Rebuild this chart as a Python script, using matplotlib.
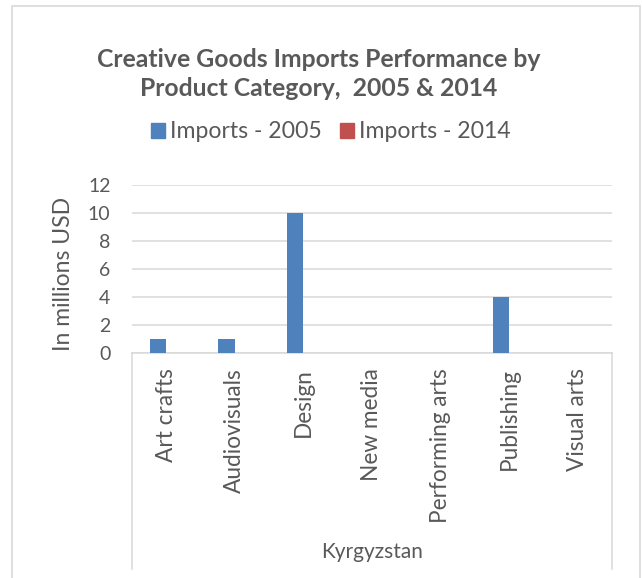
import numpy as np
import matplotlib
matplotlib.use("Agg")
import matplotlib.pyplot as plt
from matplotlib.patches import Rectangle, Patch

plt.rcParams['font.family'] = ['Lato', 'DejaVu Sans']

##=====================================
## Datos (millones USD)
##=====================================
categorias = ["Art crafts", "Audiovisuals", "Design", "New media",
              "Performing arts", "Publishing", "Visual arts"]
imports2005 = [1, 1, 10, 0, 0, 4, 0]
imports2014 = [0, 0, 0, 0, 0, 0, 0]
pais = "Kyrgyzstan"
titulo = "Creative Goods Imports Performance by\nProduct Category,  2005 & 2014"
yticks = [0, 2, 4, 6, 8, 10, 12]

AZUL = "#4F81BD"
ROJO = "#C0504D"
GRIS = "#595959"
LINEA = "#D9D9D9"

W, H = 642, 578
fig = plt.figure(figsize=(W / 100, H / 100), dpi=100)

# marco exterior del grafico
fig.patches.append(Rectangle((12 / W, -0.02), (640 - 12) / W, (578 - 6) / H + 0.02,
                             transform=fig.transFigure, fill=False,
                             edgecolor=LINEA, lw=1.2))

# area de trazado: x 132-612, y 185-353 px
ax = fig.add_axes([132 / W, 1 - 353 / H, 480 / W, 168 / H])

n = len(categorias)
centros = np.arange(n) + 0.5
ancho = 1 / 4.19  # gap width 219%
ax.bar(centros - ancho / 2, imports2005, ancho, color=AZUL, zorder=3)
ax.bar(centros + ancho / 2, imports2014, ancho, color=ROJO, zorder=3)

ax.set_xlim(0, n)
ax.set_ylim(0, 12)
ax.set_yticks(yticks)
ax.yaxis.grid(True, color=LINEA, lw=1.1, zorder=0)
ax.set_axisbelow(True)
for s in ["top", "right", "left"]:
    ax.spines[s].set_visible(False)
ax.spines["bottom"].set_color(LINEA)
ax.spines["bottom"].set_linewidth(1.1)

ax.tick_params(axis="y", length=0, pad=15.5, labelsize=14, labelcolor=GRIS)
ax.set_xticks(centros)
ax.set_xticklabels(categorias, rotation=90)
ax.tick_params(axis="x", length=0, pad=11, labelsize=16.3, labelcolor=GRIS)

# caja del eje de categorias (multinivel)
baja = -(569 - 353) / 168
for xx in [0, 1]:
    ax.plot([xx, xx], [0, baja], transform=ax.transAxes, clip_on=False,
            color=LINEA, lw=1.1)

fig.text(372 / W, 1 - 552 / H, pais, ha="center", va="center",
         fontsize=15, color=GRIS)
fig.text(64 / W, 1 - 274 / H, "In millions USD", rotation=90,
         ha="center", va="center", fontsize=16.5, color=GRIS)

fig.text(319 / W, 1 - 74 / H, titulo, ha="center", va="center",
         fontsize=17.8, fontweight="bold", color=GRIS, linespacing=1.35)

handles = [Patch(color=AZUL, label="Imports - 2005"),
           Patch(color=ROJO, label="Imports - 2014")]
fig.legend(handles=handles, loc="center", bbox_to_anchor=(331 / W, 1 - 132 / H),
           ncol=2, frameon=False, fontsize=16.6, labelcolor=GRIS,
           handlelength=0.6, handleheight=0.6, handletextpad=0.22,
           columnspacing=0.8, borderpad=0)

fig.savefig("out.png", dpi=100, facecolor="white")
